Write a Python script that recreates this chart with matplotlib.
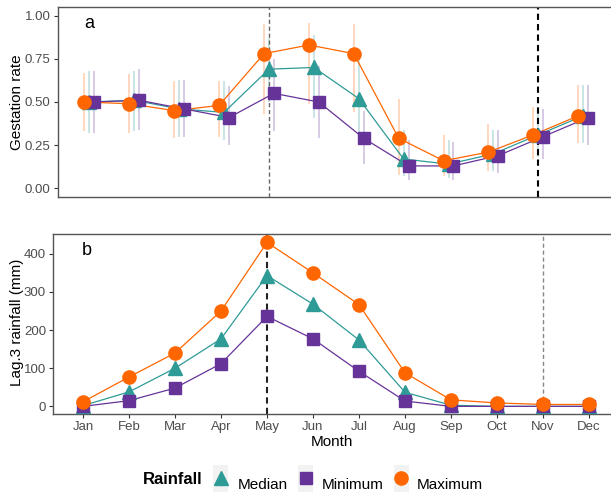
import numpy as np
import matplotlib
matplotlib.use('Agg')
import matplotlib.pyplot as plt
from matplotlib.patches import Rectangle
from matplotlib.lines import Line2D

plt.rcParams['font.family'] = ['Liberation Sans', 'DejaVu Sans']

months = ["Jan", "Feb", "Mar", "Apr", "May", "Jun",
          "Jul", "Aug", "Sep", "Oct", "Nov", "Dec"]
groups = ["Median", "Minimum", "Maximum"]

# panel a: gestation rate (point, lower, upper) per rainfall group
gest_median = [0.50, 0.51, 0.46, 0.44, 0.69, 0.70, 0.52, 0.17, 0.14, 0.20, 0.31, 0.42]
gest_median_lo = [0.32, 0.33, 0.30, 0.28, 0.50, 0.41, 0.30, 0.07, 0.06, 0.10, 0.18, 0.26]
gest_median_hi = [0.68, 0.68, 0.63, 0.62, 0.87, 0.89, 0.75, 0.34, 0.28, 0.34, 0.47, 0.60]

gest_minimum = [0.50, 0.51, 0.46, 0.41, 0.55, 0.50, 0.29, 0.13, 0.13, 0.19, 0.30, 0.41]
gest_minimum_lo = [0.32, 0.34, 0.30, 0.25, 0.33, 0.29, 0.14, 0.05, 0.05, 0.09, 0.17, 0.25]
gest_minimum_hi = [0.68, 0.69, 0.63, 0.59, 0.75, 0.71, 0.45, 0.28, 0.27, 0.34, 0.46, 0.60]

gest_maximum = [0.50, 0.49, 0.45, 0.48, 0.78, 0.83, 0.78, 0.29, 0.16, 0.21, 0.31, 0.42]
gest_maximum_lo = [0.33, 0.32, 0.29, 0.30, 0.43, 0.49, 0.44, 0.08, 0.07, 0.10, 0.17, 0.26]
gest_maximum_hi = [0.67, 0.66, 0.62, 0.62, 0.95, 0.96, 0.95, 0.52, 0.31, 0.37, 0.47, 0.60]

# panel b: lag 3 rainfall (mm)
rain_median = [2, 38, 100, 177, 343, 268, 174, 37, 3, 0, 0, 0]
rain_minimum = [0, 15, 48, 112, 236, 177, 92, 14, 0, 0, 0, 0]
rain_maximum = [12, 77, 140, 250, 430, 350, 267, 88, 17, 9, 5, 5]

colors = {"Median": "#2E9B97", "Minimum": "#663399", "Maximum": "#FF6600"}
markers = {"Median": "^", "Minimum": "s", "Maximum": "o"}
msizes = {"Median": 10, "Minimum": 8, "Maximum": 9.5}
dodge = {"Median": 0.0, "Minimum": 0.11, "Maximum": -0.11}

gest = {"Median": (gest_median, gest_median_lo, gest_median_hi),
        "Minimum": (gest_minimum, gest_minimum_lo, gest_minimum_hi),
        "Maximum": (gest_maximum, gest_maximum_lo, gest_maximum_hi)}
rain = {"Median": rain_median, "Minimum": rain_minimum, "Maximum": rain_maximum}

W, H = 611, 496
fig = plt.figure(figsize=(W / 100, H / 100), dpi=100)
ax1 = fig.add_axes([57.5 / W, 1 - 197 / H, 1 - 57.5 / W, 190 / H])
ax2 = fig.add_axes([53 / W, 1 - 414 / H, 1 - 53 / W, 180 / H])

x = np.arange(len(months))
dash = (0, (3, 2))


def style_axis(ax):
    for side in ["top", "left", "bottom"]:
        ax.spines[side].set_color("#555555")
        ax.spines[side].set_linewidth(1)
    ax.spines["right"].set_visible(False)
    ax.tick_params(axis="both", color="#333333", labelcolor="#4D4D4D",
                   length=3, width=0.8, labelsize=9.5, pad=2)


# panel a
for g in groups:
    val, lo, hi = gest[g]
    ax1.vlines(x + dodge[g], lo, hi, color=colors[g], alpha=0.28, lw=1.3, zorder=1)
for g in groups:
    ax1.plot(x + dodge[g], gest[g][0], color=colors[g], lw=0.9, zorder=2)
ax1.axvline(4, color="#666666", ls=dash, lw=1, zorder=2.5)
ax1.axvline(10, color="black", ls=dash, lw=1.5, zorder=2.5)
for g in groups:
    ax1.plot(x + dodge[g], gest[g][0], ls="none", marker=markers[g],
             ms=msizes[g], color=colors[g], mec=colors[g], zorder=3)

ax1.set_xlim(-0.71, (W - 89.3) / 44.9)
ax1.set_ylim(-0.05, 1.05)
ax1.set_yticks([0, 0.25, 0.5, 0.75, 1.0])
ax1.set_yticklabels(["0.00", "0.25", "0.50", "0.75", "1.00"])
ax1.set_xticks([])
style_axis(ax1)
ax1.text(0, 0.955, "a", size=13, ha="center", va="center")

# panel b
for g in groups:
    ax2.plot(x, rain[g], color=colors[g], lw=0.9, zorder=2)
ax2.axvline(4, color="#222222", ls=dash, lw=1.5, zorder=2.5)
ax2.axvline(10, color="#888888", ls=dash, lw=1, zorder=2.5)
for g in groups:
    ax2.plot(x, rain[g], ls="none", marker=markers[g], ms=msizes[g],
             color=colors[g], mec=colors[g], zorder=3)

ax2.set_xlim(-30 / 46, (W - 83) / 46)
ax2.set_ylim(-20, 452)
ax2.set_yticks([0, 100, 200, 300, 400])
ax2.set_xticks(x)
ax2.set_xticklabels(months)
style_axis(ax2)
ax2.text(0.08, 410, "b", size=13, ha="center", va="center")

# axis titles
fig.text(17 / W, 1 - 102 / H, "Gestation rate", rotation=90,
         ha="center", va="center", size=11)
fig.text(17 / W, 1 - 322 / H, "Lag.3 rainfall (mm)", rotation=90,
         ha="center", va="center", size=11)
fig.text(332 / W, 1 - 442 / H, "Month", ha="center", va="center", size=11)

# legend, built by hand to match the ggplot layout
fig.text(143 / W, 1 - 479 / H, "Rainfall", weight="bold", size=12, va="center")
key_left = {"Median": 213, "Minimum": 298, "Maximum": 394}
label_left = {"Median": 238, "Minimum": 322, "Maximum": 417}
for g in groups:
    x0 = key_left[g]
    fig.add_artist(Rectangle((x0 / W, 4 / H), 15 / W, 27 / H,
                             transform=fig.transFigure,
                             facecolor="#F2F2F2", edgecolor="none"))
    fig.add_artist(Line2D([(x0 + 7.5) / W], [1 - 477.5 / H],
                          transform=fig.transFigure, ls="none",
                          marker=markers[g], ms=msizes[g], color=colors[g]))
    fig.text(label_left[g] / W, 1 - 485 / H, g, va="center", size=11)

fig.savefig("out.png", dpi=100)
